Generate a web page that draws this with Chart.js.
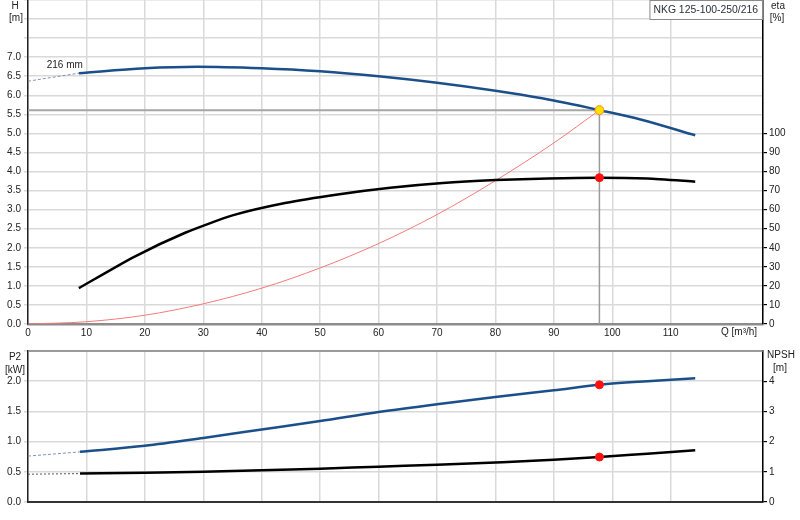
<!DOCTYPE html>
<html>
<head>
    <title>NKG 125-100-250/216</title>
    <script src="https://cdn.jsdelivr.net/npm/chart.js"></script>
    <style>
        body { margin: 0; background: #fff; }
        .wrap { position: relative; width: 800px; height: 520px; }
        #top { position: absolute; left: 0; top: 0; }
        #bottom { position: absolute; left: 0; top: 345px; }
    </style>
</head>
<body>
    <div class="wrap">
        <canvas id="top" width="800" height="345"></canvas>
        <canvas id="bottom" width="800" height="175"></canvas>
    </div>

    <script>
        // pump name and duty point
        var pumpName = 'NKG 125-100-250/216';
        var impeller = '216 mm';
        var dutyQ = 97.8;
        var dutyH = 5.61;
        var dutyEta = 76.8;
        var dutyP2 = 1.94;
        var dutyNpsh = 1.49;

        // head curve H [m]
        var qH = [8.7, 20, 29, 40, 50, 60, 70, 80, 88, 97.8, 105, 114.2];
        var hVals = [6.58, 6.71, 6.75, 6.71, 6.63, 6.5, 6.33, 6.12, 5.92, 5.61, 5.36, 4.95];
        var qHdash = [0, 8.7];
        var hDash = [6.37, 6.58];

        // system curve (red)
        var qSys = [0, 10, 20, 30, 40, 50, 60, 70, 80, 90, 97.8];
        var hSys = [0, 0.06, 0.23, 0.53, 0.94, 1.47, 2.11, 2.87, 3.76, 4.75, 5.61];

        // efficiency eta [%]
        var qEta = [8.7, 18, 27, 35, 44, 53, 62, 71, 80, 89, 97.8, 106, 114.2];
        var etaVals = [18.8, 35, 48, 57, 63.5, 68, 71.5, 74, 75.5, 76.4, 76.8, 76.3, 74.7];

        // power P2 [kW]
        var qP2 = [8.9, 20, 30, 40, 50, 60, 70, 80, 90, 97.8, 106, 114.2];
        var p2Vals = [0.83, 0.93, 1.06, 1.2, 1.34, 1.49, 1.62, 1.74, 1.85, 1.94, 2.0, 2.05];
        var qP2dash = [0, 8.9];
        var p2Dash = [0.76, 0.83];

        // NPSH [m]
        var qNpsh = [8.9, 20, 30, 40, 50, 60, 70, 80, 90, 97.8, 106, 114.2];
        var npshVals = [0.94, 0.97, 1.0, 1.05, 1.1, 1.17, 1.23, 1.31, 1.4, 1.49, 1.6, 1.71];
        var qNpshDash = [0, 8.9];
        var npshDash = [0.92, 0.94];

        // axis ranges / tick labels
        var qMax = 125.8;
        var hMax = 8.5, hLabelMax = 7.0;
        var etaMax = 170, etaLabelMax = 100;
        var p2Max = 2.5, p2LabelMax = 2.0;
        var npshMax = 5, npshLabelMax = 4;
        var qLabelMax = 110;

        var FONT = 'Liberation Sans, Arial, sans-serif';
        var BLUE = '#1b4f8a';
        var GRID = '#d9d9d9';

        function pts(xs, ys) {
            return xs.map(function(x, i) { return { x: x, y: ys[i] }; });
        }

        function curve(data, color, width, axis, extra) {
            var ds = {
                type: 'line',
                data: data,
                borderColor: color,
                borderWidth: width,
                pointRadius: 0,
                fill: false,
                cubicInterpolationMode: 'monotone',
                yAxisID: axis,
                order: 2
            };
            for (var k in extra) ds[k] = extra[k];
            return ds;
        }

        function marker(x, y, fillCol, borderCol, r, axis) {
            return {
                type: 'scatter',
                data: [{ x: x, y: y }],
                pointBackgroundColor: fillCol,
                pointBorderColor: borderCol,
                pointBorderWidth: 1,
                pointRadius: r,
                yAxisID: axis,
                order: 0
            };
        }

        // fixed axis sizes, no extra padding from the tick labels
        function fixWidth(w) {
            return function(scale) {
                scale.width = w;
                scale.paddingTop = 0;
                scale.paddingBottom = 0;
            };
        }
        function fixHeight(h) {
            return function(scale) {
                scale.height = h;
                scale.paddingLeft = 0;
                scale.paddingRight = 0;
            };
        }

        function fmt1(max) {
            return function(v) { return v > max + 1e-9 ? '' : v.toFixed(1); };
        }
        function fmt0(max) {
            return function(v) { return v > max + 1e-9 ? '' : String(Math.round(v)); };
        }

        var tickFont = { family: FONT, size: 10 };

        // texts drawn around the top chart
        var topTexts = {
            id: 'topTexts',
            afterDraw: function(chart) {
                var c = chart.ctx;
                var a = chart.chartArea;
                var xs = chart.scales.x;
                var ys = chart.scales.y;
                c.save();
                c.font = '10px ' + FONT;
                c.fillStyle = '#222';
                c.textAlign = 'center';
                c.textBaseline = 'middle';
                c.fillText('H', 15, 6);
                c.fillText('[m]', 16, 18);
                c.fillText('eta', 778, 6);
                c.fillText('[%]', 777, 18);
                c.textAlign = 'left';
                c.fillText('Q [m\u00b3/h]', 721, 332);
                c.fillText(impeller, xs.getPixelForValue(3.2), ys.getPixelForValue(6.8));
                // name box
                c.font = '10.4px ' + FONT;
                var w = c.measureText(pumpName).width + 8;
                c.fillStyle = '#fff';
                c.fillRect(a.right - w - 1, 0.5, w, 19);
                c.strokeStyle = '#8a8a8a';
                c.lineWidth = 1;
                c.strokeRect(a.right - w - 1 + 0.5, 0.5, w, 19);
                c.fillStyle = '#2a3038';
                c.fillText(pumpName, a.right - w + 3, 10);
                c.restore();
            }
        };

        var bottomTexts = {
            id: 'bottomTexts',
            afterDraw: function(chart) {
                var c = chart.ctx;
                var a = chart.chartArea;
                c.save();
                c.font = '10px ' + FONT;
                c.fillStyle = '#222';
                c.textAlign = 'center';
                c.textBaseline = 'middle';
                c.fillText('P2', 15, 12);
                c.fillText('[kW]', 15, 25);
                c.fillText('NPSH', 781, 10);
                c.fillText('[m]', 780, 23);
                c.strokeStyle = '#808080';
                c.lineWidth = 1.5;
                c.beginPath();
                c.moveTo(a.left, a.top);
                c.lineTo(a.right, a.top);
                c.stroke();
                c.restore();
            }
        };

        // ---- top chart: H, eta, system curve ----
        new Chart(document.getElementById('top').getContext('2d'), {
            data: {
                datasets: [
                    marker(dutyQ, dutyH, '#ffe000', '#f08c20', 4.5, 'y'),
                    marker(dutyQ, dutyEta, '#ff1010', '#ff1010', 4, 'eta'),
                    curve(pts(qH, hVals), BLUE, 2.5, 'y'),
                    curve(pts(qHdash, hDash), '#7f93b0', 1, 'y', { borderDash: [3, 2] }),
                    curve(pts(qEta, etaVals), '#000', 2.5, 'eta', { cubicInterpolationMode: 'default', tension: 0.2 }),
                    curve(pts(qSys, hSys), '#f57a7a', 1, 'y'),
                    curve(pts([0, dutyQ], [dutyH, dutyH]), '#a6a6a6', 2, 'y', { order: 3 }),
                    curve(pts([dutyQ, dutyQ], [dutyH, 0]), '#9a9a9a', 1.5, 'y', { order: 3 })
                ]
            },
            options: {
                responsive: false,
                animation: false,
                layout: { padding: 0, autoPadding: false },
                plugins: { legend: { display: false }, tooltip: { enabled: false } },
                scales: {
                    x: {
                        type: 'linear',
                        min: 0, max: qMax,
                        afterFit: fixHeight(21),
                        ticks: {
                            stepSize: 10, padding: 3, maxRotation: 0, color: '#222', font: tickFont,
                            callback: fmt0(qLabelMax)
                        },
                        grid: { color: GRID, lineWidth: 1.5, drawTicks: false },
                        border: { color: '#8c8c8c', width: 2.5 }
                    },
                    y: {
                        position: 'left',
                        min: 0, max: hMax,
                        afterFit: fixWidth(28),
                        ticks: { stepSize: 0.5, padding: 3, color: '#222', font: tickFont, callback: fmt1(hLabelMax) },
                        grid: { color: GRID, lineWidth: 1.5, tickLength: 4 },
                        border: { color: '#222', width: 1.5 }
                    },
                    eta: {
                        position: 'right',
                        min: 0, max: etaMax,
                        afterFit: fixWidth(37),
                        ticks: { stepSize: 10, padding: 2, color: '#222', font: tickFont, callback: fmt0(etaLabelMax) },
                        grid: {
                            drawOnChartArea: false, tickLength: 4, lineWidth: 1.2,
                            color: function(ctx) { return ctx.tick && ctx.tick.value > etaLabelMax ? 'rgba(0,0,0,0)' : '#000'; }
                        },
                        border: { color: '#000', width: 1.5 }
                    }
                }
            },
            plugins: [topTexts]
        });

        // ---- bottom chart: P2, NPSH ----
        new Chart(document.getElementById('bottom').getContext('2d'), {
            data: {
                datasets: [
                    marker(dutyQ, dutyP2, '#ff1010', '#ff1010', 4, 'y'),
                    marker(dutyQ, dutyNpsh * 0.5, '#ff1010', '#ff1010', 4, 'y'),
                    curve(pts(qP2, p2Vals), BLUE, 2.5, 'y'),
                    curve(pts(qP2dash, p2Dash), '#7f93b0', 1, 'y', { borderDash: [3, 2] }),
                    curve(pts(qNpsh, npshVals), '#000', 2.5, 'npsh'),
                    curve(pts(qNpshDash, npshDash), '#555', 1, 'npsh', { borderDash: [2, 2] })
                ]
            },
            options: {
                responsive: false,
                animation: false,
                layout: { padding: { top: 6, left: 0, right: 0, bottom: 0 }, autoPadding: false },
                plugins: { legend: { display: false }, tooltip: { enabled: false } },
                scales: {
                    x: {
                        type: 'linear',
                        min: 0, max: qMax,
                        afterFit: fixHeight(18),
                        ticks: { stepSize: 10, display: false },
                        grid: { color: GRID, lineWidth: 1.5, drawTicks: false },
                        border: { color: '#333', width: 2 }
                    },
                    y: {
                        position: 'left',
                        min: 0, max: p2Max,
                        afterFit: fixWidth(28),
                        ticks: { stepSize: 0.5, padding: 3, color: '#222', font: tickFont, callback: fmt1(p2LabelMax) },
                        grid: { color: GRID, lineWidth: 1.5, tickLength: 4 },
                        border: { color: '#222', width: 1.5 }
                    },
                    npsh: {
                        position: 'right',
                        min: 0, max: npshMax,
                        afterFit: fixWidth(37),
                        ticks: { stepSize: 1, padding: 2, color: '#222', font: tickFont, callback: fmt0(npshLabelMax) },
                        grid: {
                            drawOnChartArea: false, tickLength: 4, lineWidth: 1.2,
                            color: function(ctx) { return ctx.tick && ctx.tick.value > npshLabelMax ? 'rgba(0,0,0,0)' : '#000'; }
                        },
                        border: { color: '#000', width: 1.5 }
                    }
                }
            },
            plugins: [bottomTexts]
        });
    </script>
</body>
</html>
